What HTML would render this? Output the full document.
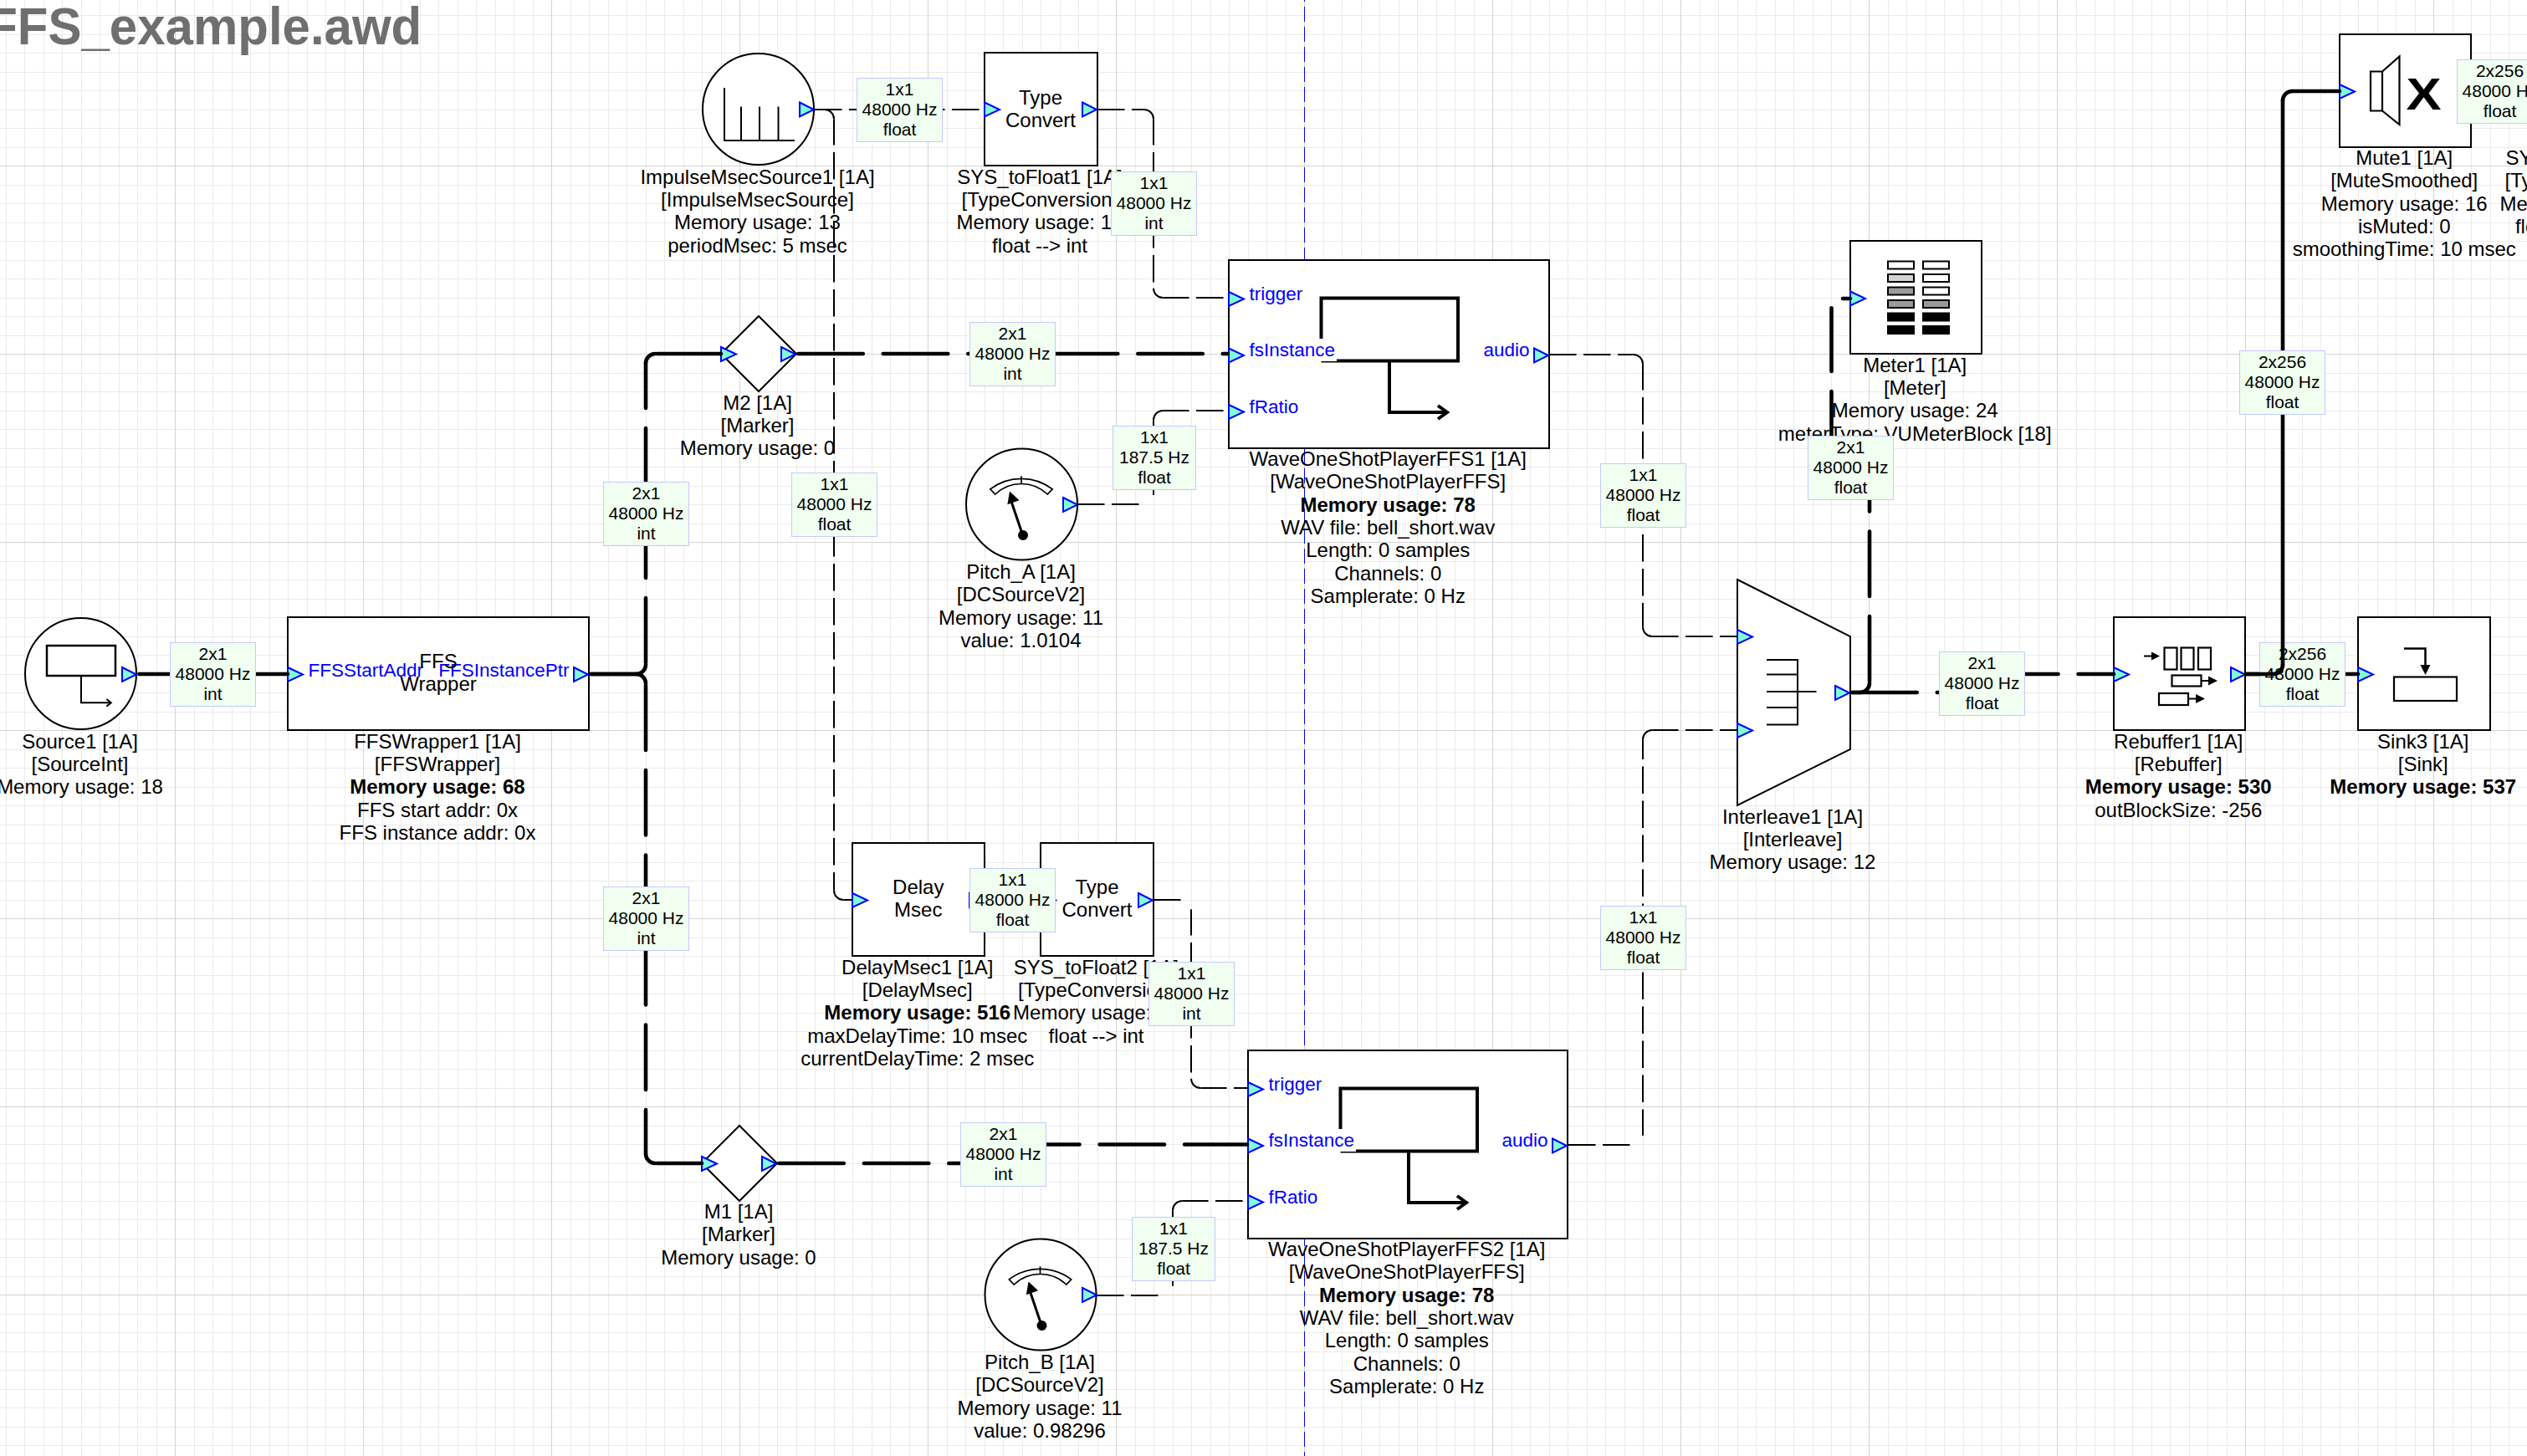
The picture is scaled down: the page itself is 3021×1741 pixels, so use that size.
<!DOCTYPE html>
<html><head><meta charset="utf-8"><title>FFS_example.awd</title><style>html,body{margin:0;padding:0;background:#fff;overflow:hidden}svg{display:block}</style></head><body>
<svg width="3021" height="1741" viewBox="0 0 3021 1741" font-family='"Liberation Sans", sans-serif'>
<rect width="3021" height="1741" fill="#fff"/>
<path d="M7.5 0V1741M29.5 0V1741M52.5 0V1741M74.5 0V1741M97.5 0V1741M119.5 0V1741M142.5 0V1741M164.5 0V1741M187.5 0V1741M232.5 0V1741M254.5 0V1741M277.5 0V1741M299.5 0V1741M322.5 0V1741M344.5 0V1741M367.5 0V1741M389.5 0V1741M412.5 0V1741M457.5 0V1741M479.5 0V1741M502.5 0V1741M524.5 0V1741M547.5 0V1741M569.5 0V1741M592.5 0V1741M614.5 0V1741M637.5 0V1741M682.5 0V1741M704.5 0V1741M727.5 0V1741M749.5 0V1741M772.5 0V1741M794.5 0V1741M817.5 0V1741M839.5 0V1741M862.5 0V1741M907.5 0V1741M929.5 0V1741M952.5 0V1741M974.5 0V1741M997.5 0V1741M1019.5 0V1741M1042.5 0V1741M1064.5 0V1741M1087.5 0V1741M1132.5 0V1741M1154.5 0V1741M1177.5 0V1741M1199.5 0V1741M1222.5 0V1741M1244.5 0V1741M1267.5 0V1741M1289.5 0V1741M1312.5 0V1741M1357.5 0V1741M1379.5 0V1741M1402.5 0V1741M1424.5 0V1741M1447.5 0V1741M1469.5 0V1741M1492.5 0V1741M1514.5 0V1741M1537.5 0V1741M1582.5 0V1741M1604.5 0V1741M1627.5 0V1741M1649.5 0V1741M1672.5 0V1741M1694.5 0V1741M1717.5 0V1741M1739.5 0V1741M1762.5 0V1741M1807.5 0V1741M1829.5 0V1741M1852.5 0V1741M1874.5 0V1741M1897.5 0V1741M1919.5 0V1741M1942.5 0V1741M1964.5 0V1741M1987.5 0V1741M2032.5 0V1741M2054.5 0V1741M2077.5 0V1741M2099.5 0V1741M2122.5 0V1741M2144.5 0V1741M2167.5 0V1741M2189.5 0V1741M2212.5 0V1741M2257.5 0V1741M2279.5 0V1741M2302.5 0V1741M2324.5 0V1741M2347.5 0V1741M2369.5 0V1741M2392.5 0V1741M2414.5 0V1741M2437.5 0V1741M2482.5 0V1741M2504.5 0V1741M2527.5 0V1741M2549.5 0V1741M2572.5 0V1741M2594.5 0V1741M2617.5 0V1741M2639.5 0V1741M2662.5 0V1741M2707.5 0V1741M2729.5 0V1741M2752.5 0V1741M2774.5 0V1741M2797.5 0V1741M2819.5 0V1741M2842.5 0V1741M2864.5 0V1741M2887.5 0V1741M2932.5 0V1741M2954.5 0V1741M2977.5 0V1741M2999.5 0V1741M0 18.5H3021M0 41.5H3021M0 63.5H3021M0 86.5H3021M0 108.5H3021M0 131.5H3021M0 153.5H3021M0 176.5H3021M0 221.5H3021M0 243.5H3021M0 266.5H3021M0 288.5H3021M0 311.5H3021M0 333.5H3021M0 356.5H3021M0 378.5H3021M0 401.5H3021M0 446.5H3021M0 468.5H3021M0 491.5H3021M0 513.5H3021M0 536.5H3021M0 558.5H3021M0 581.5H3021M0 603.5H3021M0 626.5H3021M0 671.5H3021M0 693.5H3021M0 716.5H3021M0 738.5H3021M0 761.5H3021M0 783.5H3021M0 806.5H3021M0 828.5H3021M0 851.5H3021M0 896.5H3021M0 918.5H3021M0 941.5H3021M0 963.5H3021M0 986.5H3021M0 1008.5H3021M0 1031.5H3021M0 1053.5H3021M0 1076.5H3021M0 1121.5H3021M0 1143.5H3021M0 1166.5H3021M0 1188.5H3021M0 1211.5H3021M0 1233.5H3021M0 1256.5H3021M0 1278.5H3021M0 1301.5H3021M0 1346.5H3021M0 1368.5H3021M0 1391.5H3021M0 1413.5H3021M0 1436.5H3021M0 1458.5H3021M0 1481.5H3021M0 1503.5H3021M0 1526.5H3021M0 1571.5H3021M0 1593.5H3021M0 1616.5H3021M0 1638.5H3021M0 1661.5H3021M0 1683.5H3021M0 1706.5H3021M0 1728.5H3021" stroke="#ebebeb" stroke-width="1" shape-rendering="crispEdges"/>
<path d="M209.5 0V1741M434.5 0V1741M659.5 0V1741M884.5 0V1741M1109.5 0V1741M1334.5 0V1741M1559.5 0V1741M1784.5 0V1741M2009.5 0V1741M2234.5 0V1741M2459.5 0V1741M2684.5 0V1741M2909.5 0V1741M0 198.5H3021M0 423.5H3021M0 648.5H3021M0 873.5H3021M0 1098.5H3021M0 1323.5H3021M0 1548.5H3021" stroke="#d4d4d4" stroke-width="1" shape-rendering="crispEdges"/>
<path d="M1559.5 0V1741" stroke="#0000ff" stroke-width="1" stroke-dasharray="18 6" stroke-dashoffset="16" shape-rendering="crispEdges"/>
<g transform="translate(-15.8 52.6) scale(1 1.047)">
<text x="0.00" y="0.00" font-size="60" text-anchor="start" fill="#6f6f6f" font-weight="bold">FFS_example.awd</text>
</g>
<text x="95.50" y="894.50" font-size="24" text-anchor="middle" fill="#000">Source1 [1A]</text>
<text x="95.50" y="921.85" font-size="24" text-anchor="middle" fill="#000">[SourceInt]</text>
<text x="95.50" y="949.20" font-size="24" text-anchor="middle" fill="#000">Memory usage: 18</text>
<text x="523.00" y="894.50" font-size="24" text-anchor="middle" fill="#000">FFSWrapper1 [1A]</text>
<text x="523.00" y="921.85" font-size="24" text-anchor="middle" fill="#000">[FFSWrapper]</text>
<text x="523.00" y="949.20" font-size="24" text-anchor="middle" fill="#000" font-weight="bold">Memory usage: 68</text>
<text x="523.00" y="976.55" font-size="24" text-anchor="middle" fill="#000">FFS start addr: 0x</text>
<text x="523.00" y="1003.90" font-size="24" text-anchor="middle" fill="#000">FFS instance addr: 0x</text>
<text x="905.50" y="219.50" font-size="24" text-anchor="middle" fill="#000">ImpulseMsecSource1 [1A]</text>
<text x="905.50" y="246.85" font-size="24" text-anchor="middle" fill="#000">[ImpulseMsecSource]</text>
<text x="905.50" y="274.20" font-size="24" text-anchor="middle" fill="#000">Memory usage: 13</text>
<text x="905.50" y="301.55" font-size="24" text-anchor="middle" fill="#000">periodMsec: 5 msec</text>
<text x="1243.00" y="219.50" font-size="24" text-anchor="middle" fill="#000">SYS_toFloat1 [1A]</text>
<text x="1243.00" y="246.85" font-size="24" text-anchor="middle" fill="#000">[TypeConversion]</text>
<text x="1243.00" y="274.20" font-size="24" text-anchor="middle" fill="#000">Memory usage: 12</text>
<text x="1243.00" y="301.55" font-size="24" text-anchor="middle" fill="#000">float --&gt; int</text>
<text x="905.50" y="489.50" font-size="24" text-anchor="middle" fill="#000">M2 [1A]</text>
<text x="905.50" y="516.85" font-size="24" text-anchor="middle" fill="#000">[Marker]</text>
<text x="905.50" y="544.20" font-size="24" text-anchor="middle" fill="#000">Memory usage: 0</text>
<text x="1659.25" y="557.00" font-size="24" text-anchor="middle" fill="#000">WaveOneShotPlayerFFS1 [1A]</text>
<text x="1659.25" y="584.35" font-size="24" text-anchor="middle" fill="#000">[WaveOneShotPlayerFFS]</text>
<text x="1659.25" y="611.70" font-size="24" text-anchor="middle" fill="#000" font-weight="bold">Memory usage: 78</text>
<text x="1659.25" y="639.05" font-size="24" text-anchor="middle" fill="#000">WAV file: bell_short.wav</text>
<text x="1659.25" y="666.40" font-size="24" text-anchor="middle" fill="#000">Length: 0 samples</text>
<text x="1659.25" y="693.75" font-size="24" text-anchor="middle" fill="#000">Channels: 0</text>
<text x="1659.25" y="721.10" font-size="24" text-anchor="middle" fill="#000">Samplerate: 0 Hz</text>
<text x="1220.50" y="692.00" font-size="24" text-anchor="middle" fill="#000">Pitch_A [1A]</text>
<text x="1220.50" y="719.35" font-size="24" text-anchor="middle" fill="#000">[DCSourceV2]</text>
<text x="1220.50" y="746.70" font-size="24" text-anchor="middle" fill="#000">Memory usage: 11</text>
<text x="1220.50" y="774.05" font-size="24" text-anchor="middle" fill="#000">value: 1.0104</text>
<text x="2289.25" y="444.50" font-size="24" text-anchor="middle" fill="#000">Meter1 [1A]</text>
<text x="2289.25" y="471.85" font-size="24" text-anchor="middle" fill="#000">[Meter]</text>
<text x="2289.25" y="499.20" font-size="24" text-anchor="middle" fill="#000">Memory usage: 24</text>
<text x="2289.25" y="526.55" font-size="24" text-anchor="middle" fill="#000">meterType: VUMeterBlock [18]</text>
<text x="2874.25" y="197.00" font-size="24" text-anchor="middle" fill="#000">Mute1 [1A]</text>
<text x="2874.25" y="224.35" font-size="24" text-anchor="middle" fill="#000">[MuteSmoothed]</text>
<text x="2874.25" y="251.70" font-size="24" text-anchor="middle" fill="#000">Memory usage: 16</text>
<text x="2874.25" y="279.05" font-size="24" text-anchor="middle" fill="#000">isMuted: 0</text>
<text x="2874.25" y="306.40" font-size="24" text-anchor="middle" fill="#000">smoothingTime: 10 msec</text>
<text x="3088.00" y="197.00" font-size="24" text-anchor="middle" fill="#000"></text>
<text x="3088.00" y="224.35" font-size="24" text-anchor="middle" fill="#000">[TypeConversion]</text>
<text x="3088.00" y="251.70" font-size="24" text-anchor="middle" fill="#000">Memory usage: 12</text>
<text x="3088.00" y="279.05" font-size="24" text-anchor="middle" fill="#000">float --&gt; fract32</text>
<text x="2995.50" y="197.00" font-size="24" text-anchor="start" fill="#000">SYS_toFloat3 [1A]</text>
<text x="2143.00" y="984.50" font-size="24" text-anchor="middle" fill="#000">Interleave1 [1A]</text>
<text x="2143.00" y="1011.85" font-size="24" text-anchor="middle" fill="#000">[Interleave]</text>
<text x="2143.00" y="1039.20" font-size="24" text-anchor="middle" fill="#000">Memory usage: 12</text>
<text x="2604.25" y="894.50" font-size="24" text-anchor="middle" fill="#000">Rebuffer1 [1A]</text>
<text x="2604.25" y="921.85" font-size="24" text-anchor="middle" fill="#000">[Rebuffer]</text>
<text x="2604.25" y="949.20" font-size="24" text-anchor="middle" fill="#000" font-weight="bold">Memory usage: 530</text>
<text x="2604.25" y="976.55" font-size="24" text-anchor="middle" fill="#000">outBlockSize: -256</text>
<text x="2896.75" y="894.50" font-size="24" text-anchor="middle" fill="#000">Sink3 [1A]</text>
<text x="2896.75" y="921.85" font-size="24" text-anchor="middle" fill="#000">[Sink]</text>
<text x="2896.75" y="949.20" font-size="24" text-anchor="middle" fill="#000" font-weight="bold">Memory usage: 537</text>
<text x="1096.75" y="1164.50" font-size="24" text-anchor="middle" fill="#000">DelayMsec1 [1A]</text>
<text x="1096.75" y="1191.85" font-size="24" text-anchor="middle" fill="#000">[DelayMsec]</text>
<text x="1096.75" y="1219.20" font-size="24" text-anchor="middle" fill="#000" font-weight="bold">Memory usage: 516</text>
<text x="1096.75" y="1246.55" font-size="24" text-anchor="middle" fill="#000">maxDelayTime: 10 msec</text>
<text x="1096.75" y="1273.90" font-size="24" text-anchor="middle" fill="#000">currentDelayTime: 2 msec</text>
<text x="1310.50" y="1164.50" font-size="24" text-anchor="middle" fill="#000">SYS_toFloat2 [1A]</text>
<text x="1310.50" y="1191.85" font-size="24" text-anchor="middle" fill="#000">[TypeConversion]</text>
<text x="1310.50" y="1219.20" font-size="24" text-anchor="middle" fill="#000">Memory usage: 12</text>
<text x="1310.50" y="1246.55" font-size="24" text-anchor="middle" fill="#000">float --&gt; int</text>
<text x="1681.75" y="1502.00" font-size="24" text-anchor="middle" fill="#000">WaveOneShotPlayerFFS2 [1A]</text>
<text x="1681.75" y="1529.35" font-size="24" text-anchor="middle" fill="#000">[WaveOneShotPlayerFFS]</text>
<text x="1681.75" y="1556.70" font-size="24" text-anchor="middle" fill="#000" font-weight="bold">Memory usage: 78</text>
<text x="1681.75" y="1584.05" font-size="24" text-anchor="middle" fill="#000">WAV file: bell_short.wav</text>
<text x="1681.75" y="1611.40" font-size="24" text-anchor="middle" fill="#000">Length: 0 samples</text>
<text x="1681.75" y="1638.75" font-size="24" text-anchor="middle" fill="#000">Channels: 0</text>
<text x="1681.75" y="1666.10" font-size="24" text-anchor="middle" fill="#000">Samplerate: 0 Hz</text>
<text x="883.00" y="1457.00" font-size="24" text-anchor="middle" fill="#000">M1 [1A]</text>
<text x="883.00" y="1484.35" font-size="24" text-anchor="middle" fill="#000">[Marker]</text>
<text x="883.00" y="1511.70" font-size="24" text-anchor="middle" fill="#000">Memory usage: 0</text>
<text x="1243.00" y="1637.00" font-size="24" text-anchor="middle" fill="#000">Pitch_B [1A]</text>
<text x="1243.00" y="1664.35" font-size="24" text-anchor="middle" fill="#000">[DCSourceV2]</text>
<text x="1243.00" y="1691.70" font-size="24" text-anchor="middle" fill="#000">Memory usage: 11</text>
<text x="1243.00" y="1719.05" font-size="24" text-anchor="middle" fill="#000">value: 0.98296</text>
<circle cx="96.5" cy="805.5" r="66.5" fill="#fff" stroke="#000" stroke-width="2"/>
<path d="M56 772H138V808H56Z" fill="none" stroke="#000" stroke-width="2.5"/>
<path d="M97 808V840.3H132" fill="none" stroke="#000" stroke-width="2"/>
<path d="M127.3 836L132.8 840.3L127.3 844.6" fill="none" stroke="#000" stroke-width="2"/>
<rect x="344" y="738" width="360" height="135" fill="#fff" stroke="#000" stroke-width="2"/>
<circle cx="906.5" cy="130.5" r="66.5" fill="#fff" stroke="#000" stroke-width="2"/>
<path d="M866 105V168H950M886 127.5V168M908 127.5V168M930.5 127.5V168" fill="none" stroke="#000" stroke-width="2"/>
<rect x="1177" y="63" width="135" height="135" fill="#fff" stroke="#000" stroke-width="2"/>
<text x="1244.00" y="125.00" font-size="24" text-anchor="middle" fill="#000">Type</text>
<text x="1244.00" y="152.00" font-size="24" text-anchor="middle" fill="#000">Convert</text>
<rect x="1469" y="311" width="383" height="225" fill="#fff" stroke="#000" stroke-width="2"/>
<path d="M1579.5 406V356.5H1743V431.5H1579.5M1661 431.5V493H1730M1719 485L1730 493L1719 501" fill="none" stroke="#000" stroke-width="4"/>
<rect x="1491" y="337.5" width="65.5" height="27" fill="#fff"/>
<text x="1493.50" y="358.50" font-size="22.5" text-anchor="start" fill="#0000ff">trigger</text>
<rect x="1491" y="405.0" width="107" height="27" fill="#fff"/>
<text x="1493.50" y="426.00" font-size="22.5" text-anchor="start" fill="#0000ff">fsInstance</text>
<rect x="1491" y="472.5" width="63" height="27" fill="#fff"/>
<text x="1493.50" y="493.50" font-size="22.5" text-anchor="start" fill="#0000ff">fRatio</text>
<text x="1828.50" y="426.00" font-size="22.5" text-anchor="end" fill="#0000ff">audio</text>
<path d="M907 378L952 423L907 468L862 423Z" fill="#fff" stroke="#000" stroke-width="2"/>
<circle cx="1221.5" cy="603.0" r="66.5" fill="#fff" stroke="#000" stroke-width="2"/>
<path d="M1183.80 584.90A61.2 61.2 0 0 1 1258.20 584.90L1252.20 591.00A45.2 45.2 0 0 0 1189.80 591.00Z" fill="none" stroke="#000" stroke-width="1.7"/>
<path d="M1221.0 569.30V578.50" stroke="#000" stroke-width="1.7"/>
<path d="M1222.70 640.00L1209.50 601.00" stroke="#000" stroke-width="3"/>
<path d="M1207.00 587.50L1218.59 598.36L1204.38 603.17Z" fill="#000"/>
<circle cx="1223.00" cy="640.00" r="6" fill="#000"/>
<rect x="2212" y="288" width="157" height="135" fill="#fff" stroke="#000" stroke-width="2"/>
<rect x="2257" y="312.50" width="31" height="9" fill="#fff" stroke="#000" stroke-width="2"/>
<rect x="2299" y="312.50" width="31" height="9" fill="#fff" stroke="#000" stroke-width="2"/>
<rect x="2257" y="328.00" width="31" height="9" fill="#d3d3d3" stroke="#000" stroke-width="2"/>
<rect x="2299" y="328.00" width="31" height="9" fill="#fff" stroke="#000" stroke-width="2"/>
<rect x="2257" y="343.50" width="31" height="9" fill="#9a9a9a" stroke="#000" stroke-width="2"/>
<rect x="2299" y="343.50" width="31" height="9" fill="#fff" stroke="#000" stroke-width="2"/>
<rect x="2257" y="359.00" width="31" height="9" fill="#9a9a9a" stroke="#000" stroke-width="2"/>
<rect x="2299" y="359.00" width="31" height="9" fill="#9a9a9a" stroke="#000" stroke-width="2"/>
<rect x="2257" y="374.50" width="31" height="9" fill="#000" stroke="#000" stroke-width="2"/>
<rect x="2299" y="374.50" width="31" height="9" fill="#000" stroke="#000" stroke-width="2"/>
<rect x="2257" y="390.00" width="31" height="9" fill="#000" stroke="#000" stroke-width="2"/>
<rect x="2299" y="390.00" width="31" height="9" fill="#000" stroke="#000" stroke-width="2"/>
<rect x="2797" y="41" width="157" height="135" fill="#fff" stroke="#000" stroke-width="2"/>
<path d="M2834 85.5H2848V132.5H2834Z M2848 85.5L2868.5 67.5V149L2848 132.5" fill="none" stroke="#000" stroke-width="2.2" stroke-linejoin="miter"/>
<g transform="translate(2897.5 131) scale(1.19 1)">
<text x="0.00" y="0.00" font-size="53" text-anchor="middle" fill="#000" font-weight="bold">X</text>
</g>
<path d="M2077 693L2212 761V896L2077 963Z" fill="#fff" stroke="#000" stroke-width="2"/>
<path d="M2112 789H2149V866.5H2112M2112 806.5H2149M2112 846H2149M2112 827H2171.5" fill="none" stroke="#000" stroke-width="2"/>
<rect x="2527" y="738" width="157" height="135" fill="#fff" stroke="#000" stroke-width="2"/>
<path d="M2563 784.5H2573" stroke="#000" stroke-width="2"/><path d="M2572 779.5L2582 784.5L2572 789.5Z" fill="#000"/><rect x="2587.5" y="774.5" width="15" height="26" fill="none" stroke="#000" stroke-width="2.2"/><rect x="2607.5" y="774.5" width="15" height="26" fill="none" stroke="#000" stroke-width="2.2"/><rect x="2628" y="774.5" width="15" height="26" fill="none" stroke="#000" stroke-width="2.2"/><rect x="2596.5" y="807.5" width="35" height="13" fill="none" stroke="#000" stroke-width="2.2"/><path d="M2632 814H2641" stroke="#000" stroke-width="2"/><path d="M2640 808.5L2651 814L2640 819.5Z" fill="#000"/><rect x="2581" y="829" width="35" height="14" fill="none" stroke="#000" stroke-width="2.2"/><path d="M2616 835.5H2626" stroke="#000" stroke-width="2"/><path d="M2625 830L2636 835.5L2625 841Z" fill="#000"/>
<rect x="2819" y="738" width="158" height="135" fill="#fff" stroke="#000" stroke-width="2"/>
<rect x="2862" y="809.5" width="75" height="28.5" fill="none" stroke="#000" stroke-width="2.2"/>
<path d="M2874 775.5H2899.5V795" fill="none" stroke="#000" stroke-width="2.5"/>
<path d="M2893.5 795L2899.5 807L2905.5 795Z" fill="#000"/>
<rect x="1019" y="1008" width="158" height="135" fill="#fff" stroke="#000" stroke-width="2"/>
<text x="1097.75" y="1069.00" font-size="24" text-anchor="middle" fill="#000">Delay</text>
<text x="1097.75" y="1096.00" font-size="24" text-anchor="middle" fill="#000">Msec</text>
<rect x="1244" y="1008" width="135" height="135" fill="#fff" stroke="#000" stroke-width="2"/>
<text x="1311.50" y="1069.00" font-size="24" text-anchor="middle" fill="#000">Type</text>
<text x="1311.50" y="1096.00" font-size="24" text-anchor="middle" fill="#000">Convert</text>
<rect x="1492" y="1256" width="382" height="225" fill="#fff" stroke="#000" stroke-width="2"/>
<path d="M1602.5 1351V1301.5H1766V1376.5H1602.5M1684 1376.5V1438H1753M1742 1430L1753 1438L1742 1446" fill="none" stroke="#000" stroke-width="4"/>
<rect x="1514" y="1282.5" width="65.5" height="27" fill="#fff"/>
<text x="1516.50" y="1303.50" font-size="22.5" text-anchor="start" fill="#0000ff">trigger</text>
<rect x="1514" y="1350.0" width="107" height="27" fill="#fff"/>
<text x="1516.50" y="1371.00" font-size="22.5" text-anchor="start" fill="#0000ff">fsInstance</text>
<rect x="1514" y="1417.5" width="63" height="27" fill="#fff"/>
<text x="1516.50" y="1438.50" font-size="22.5" text-anchor="start" fill="#0000ff">fRatio</text>
<text x="1850.50" y="1371.00" font-size="22.5" text-anchor="end" fill="#0000ff">audio</text>
<path d="M884 1346L929 1391L884 1436L839 1391Z" fill="#fff" stroke="#000" stroke-width="2"/>
<circle cx="1244.0" cy="1548.0" r="66.5" fill="#fff" stroke="#000" stroke-width="2"/>
<path d="M1206.30 1529.90A61.2 61.2 0 0 1 1280.70 1529.90L1274.70 1536.00A45.2 45.2 0 0 0 1212.30 1536.00Z" fill="none" stroke="#000" stroke-width="1.7"/>
<path d="M1243.5 1514.30V1523.50" stroke="#000" stroke-width="1.7"/>
<path d="M1245.20 1585.00L1232.00 1546.00" stroke="#000" stroke-width="3"/>
<path d="M1229.50 1532.50L1241.09 1543.36L1226.88 1548.17Z" fill="#000"/>
<circle cx="1245.50" cy="1585.00" r="6" fill="#000"/>
<text x="368.50" y="808.50" font-size="22.5" text-anchor="start" fill="#0000ff">FFSStartAddr</text>
<text x="680.50" y="808.50" font-size="22.5" text-anchor="end" fill="#0000ff">FFSInstancePtr</text>
<text x="524.00" y="799.00" font-size="24" text-anchor="middle" fill="#000">FFS</text>
<text x="524.00" y="826.00" font-size="24" text-anchor="middle" fill="#000">Wrapper</text>
<path d="M146 798.0L163 806.5L146 815.0Z" fill="#7fffd4" stroke="#0000ff" stroke-width="2" stroke-linejoin="miter"/>
<path d="M344 798.0L362 806.5L344 815.0Z" fill="#7fffd4" stroke="#0000ff" stroke-width="2" stroke-linejoin="miter"/>
<path d="M686 798.0L703 806.5L686 815.0Z" fill="#7fffd4" stroke="#0000ff" stroke-width="2" stroke-linejoin="miter"/>
<path d="M956 122.5L973 131L956 139.5Z" fill="#7fffd4" stroke="#0000ff" stroke-width="2" stroke-linejoin="miter"/>
<path d="M1177 122.5L1195 131L1177 139.5Z" fill="#7fffd4" stroke="#0000ff" stroke-width="2" stroke-linejoin="miter"/>
<path d="M1294 122.5L1311 131L1294 139.5Z" fill="#7fffd4" stroke="#0000ff" stroke-width="2" stroke-linejoin="miter"/>
<path d="M862 415.0L880 423.5L862 432.0Z" fill="#7fffd4" stroke="#0000ff" stroke-width="2" stroke-linejoin="miter"/>
<path d="M934 415.0L951 423.5L934 432.0Z" fill="#7fffd4" stroke="#0000ff" stroke-width="2" stroke-linejoin="miter"/>
<path d="M1469 349.0L1487 357.5L1469 366.0Z" fill="#7fffd4" stroke="#0000ff" stroke-width="2" stroke-linejoin="miter"/>
<path d="M1469 416.5L1487 425L1469 433.5Z" fill="#7fffd4" stroke="#0000ff" stroke-width="2" stroke-linejoin="miter"/>
<path d="M1469 484.0L1487 492.5L1469 501.0Z" fill="#7fffd4" stroke="#0000ff" stroke-width="2" stroke-linejoin="miter"/>
<path d="M1834 416.5L1851 425L1834 433.5Z" fill="#7fffd4" stroke="#0000ff" stroke-width="2" stroke-linejoin="miter"/>
<path d="M1492 1294.0L1510 1302.5L1492 1311.0Z" fill="#7fffd4" stroke="#0000ff" stroke-width="2" stroke-linejoin="miter"/>
<path d="M1492 1361.5L1510 1370L1492 1378.5Z" fill="#7fffd4" stroke="#0000ff" stroke-width="2" stroke-linejoin="miter"/>
<path d="M1492 1429.0L1510 1437.5L1492 1446.0Z" fill="#7fffd4" stroke="#0000ff" stroke-width="2" stroke-linejoin="miter"/>
<path d="M1856 1361.5L1873 1370L1856 1378.5Z" fill="#7fffd4" stroke="#0000ff" stroke-width="2" stroke-linejoin="miter"/>
<path d="M1271 595.0L1288 603.5L1271 612.0Z" fill="#7fffd4" stroke="#0000ff" stroke-width="2" stroke-linejoin="miter"/>
<path d="M1294 1540.0L1311 1548.5L1294 1557.0Z" fill="#7fffd4" stroke="#0000ff" stroke-width="2" stroke-linejoin="miter"/>
<path d="M2212 348.5L2230 357L2212 365.5Z" fill="#7fffd4" stroke="#0000ff" stroke-width="2" stroke-linejoin="miter"/>
<path d="M2077 753.0L2095 761.5L2077 770.0Z" fill="#7fffd4" stroke="#0000ff" stroke-width="2" stroke-linejoin="miter"/>
<path d="M2077 865.0L2095 873.5L2077 882.0Z" fill="#7fffd4" stroke="#0000ff" stroke-width="2" stroke-linejoin="miter"/>
<path d="M2194 820.0L2211 828.5L2194 837.0Z" fill="#7fffd4" stroke="#0000ff" stroke-width="2" stroke-linejoin="miter"/>
<path d="M2527 798.0L2545 806.5L2527 815.0Z" fill="#7fffd4" stroke="#0000ff" stroke-width="2" stroke-linejoin="miter"/>
<path d="M2667 798.0L2684 806.5L2667 815.0Z" fill="#7fffd4" stroke="#0000ff" stroke-width="2" stroke-linejoin="miter"/>
<path d="M2819 798.0L2837 806.5L2819 815.0Z" fill="#7fffd4" stroke="#0000ff" stroke-width="2" stroke-linejoin="miter"/>
<path d="M2797 101.0L2815 109.5L2797 118.0Z" fill="#7fffd4" stroke="#0000ff" stroke-width="2" stroke-linejoin="miter"/>
<path d="M1019 1068.0L1037 1076.5L1019 1085.0Z" fill="#7fffd4" stroke="#0000ff" stroke-width="2" stroke-linejoin="miter"/>
<path d="M1159 1068.0L1176 1076.5L1159 1085.0Z" fill="#7fffd4" stroke="#0000ff" stroke-width="2" stroke-linejoin="miter"/>
<path d="M1244 1068.0L1262 1076.5L1244 1085.0Z" fill="#7fffd4" stroke="#0000ff" stroke-width="2" stroke-linejoin="miter"/>
<path d="M1361 1068.0L1378 1076.5L1361 1085.0Z" fill="#7fffd4" stroke="#0000ff" stroke-width="2" stroke-linejoin="miter"/>
<path d="M839 1383.0L857 1391.5L839 1400.0Z" fill="#7fffd4" stroke="#0000ff" stroke-width="2" stroke-linejoin="miter"/>
<path d="M911 1383.0L928 1391.5L911 1400.0Z" fill="#7fffd4" stroke="#0000ff" stroke-width="2" stroke-linejoin="miter"/>
<path d="M164.00 806.00L344.00 806.00" stroke="#000" stroke-width="4.6" fill="none" stroke-dasharray="77.5 24" stroke-dashoffset="-2.3" stroke-linecap="round"/>
<rect x="203.5" y="768.5" width="102" height="76" fill="#f0fff0" stroke="#c8c8ff" stroke-width="1"/>
<text x="254.50" y="788.70" font-size="21" text-anchor="middle" fill="#000">2x1</text>
<text x="254.50" y="812.70" font-size="21" text-anchor="middle" fill="#000">48000 Hz</text>
<text x="254.50" y="836.70" font-size="21" text-anchor="middle" fill="#000">int</text>
<path d="M704.00 806.00L760.75 806.00" stroke="#000" stroke-width="4.6" fill="none" stroke-dasharray="77.5 24" stroke-dashoffset="-2.3" stroke-linecap="round"/>
<path d="M772.00 794.75L772.00 434.25" stroke="#000" stroke-width="4.6" fill="none" stroke-dasharray="77.5 24" stroke-dashoffset="-2.3" stroke-linecap="round"/>
<path d="M783.25 423.00L862.00 423.00" stroke="#000" stroke-width="4.6" fill="none" stroke-dasharray="77.5 24" stroke-dashoffset="-2.3" stroke-linecap="round"/>
<path d="M760.75 806.00A11.25 11.25 0 0 0 772.00 794.75M772.00 434.25A11.25 11.25 0 0 1 783.25 423.00" stroke="#000" stroke-width="4.6" fill="none" stroke-linecap="round"/>
<rect x="721.5" y="576.5" width="102" height="76" fill="#f0fff0" stroke="#c8c8ff" stroke-width="1"/>
<text x="772.50" y="596.70" font-size="21" text-anchor="middle" fill="#000">2x1</text>
<text x="772.50" y="620.70" font-size="21" text-anchor="middle" fill="#000">48000 Hz</text>
<text x="772.50" y="644.70" font-size="21" text-anchor="middle" fill="#000">int</text>
<path d="M704.00 806.00L760.75 806.00" stroke="#000" stroke-width="4.6" fill="none" stroke-dasharray="77.5 24" stroke-dashoffset="-2.3" stroke-linecap="round"/>
<path d="M772.00 817.25L772.00 1379.75" stroke="#000" stroke-width="4.6" fill="none" stroke-dasharray="77.5 24" stroke-dashoffset="-2.3" stroke-linecap="round"/>
<path d="M783.25 1391.00L839.00 1391.00" stroke="#000" stroke-width="4.6" fill="none" stroke-dasharray="77.5 24" stroke-dashoffset="-2.3" stroke-linecap="round"/>
<path d="M760.75 806.00A11.25 11.25 0 0 1 772.00 817.25M772.00 1379.75A11.25 11.25 0 0 0 783.25 1391.00" stroke="#000" stroke-width="4.6" fill="none" stroke-linecap="round"/>
<rect x="721.5" y="1060.5" width="102" height="76" fill="#f0fff0" stroke="#c8c8ff" stroke-width="1"/>
<text x="772.50" y="1080.70" font-size="21" text-anchor="middle" fill="#000">2x1</text>
<text x="772.50" y="1104.70" font-size="21" text-anchor="middle" fill="#000">48000 Hz</text>
<text x="772.50" y="1128.70" font-size="21" text-anchor="middle" fill="#000">int</text>
<path d="M952.00 423.00L1468.00 423.00" stroke="#000" stroke-width="4.6" fill="none" stroke-dasharray="77.5 24" stroke-dashoffset="-2.3" stroke-linecap="round"/>
<rect x="1159.5" y="385.5" width="102" height="76" fill="#f0fff0" stroke="#c8c8ff" stroke-width="1"/>
<text x="1210.50" y="405.70" font-size="21" text-anchor="middle" fill="#000">2x1</text>
<text x="1210.50" y="429.70" font-size="21" text-anchor="middle" fill="#000">48000 Hz</text>
<text x="1210.50" y="453.70" font-size="21" text-anchor="middle" fill="#000">int</text>
<path d="M929.00 1391.00L1188.25 1391.00" stroke="#000" stroke-width="4.6" fill="none" stroke-dasharray="77.5 24" stroke-dashoffset="-2.3" stroke-linecap="round"/>
<path d="M1199.50 1379.75L1199.50 1379.75" stroke="#000" stroke-width="4.6" fill="none" stroke-dasharray="77.5 24" stroke-dashoffset="-2.3" stroke-linecap="round"/>
<path d="M1210.75 1368.50L1491.00 1368.50" stroke="#000" stroke-width="4.6" fill="none" stroke-dasharray="77.5 24" stroke-dashoffset="-2.3" stroke-linecap="round"/>
<path d="M1188.25 1391.00A11.25 11.25 0 0 0 1199.50 1379.75M1199.50 1379.75A11.25 11.25 0 0 1 1210.75 1368.50" stroke="#000" stroke-width="4.6" fill="none" stroke-linecap="round"/>
<rect x="1148.5" y="1342.5" width="102" height="76" fill="#f0fff0" stroke="#c8c8ff" stroke-width="1"/>
<text x="1199.50" y="1362.70" font-size="21" text-anchor="middle" fill="#000">2x1</text>
<text x="1199.50" y="1386.70" font-size="21" text-anchor="middle" fill="#000">48000 Hz</text>
<text x="1199.50" y="1410.70" font-size="21" text-anchor="middle" fill="#000">int</text>
<path d="M974.00 131.00L1177.00 131.00" stroke="#000" stroke-width="2" fill="none" stroke-dasharray="32.5 8.5" stroke-linecap="butt"/>
<rect x="1024.5" y="93.5" width="102" height="76" fill="#f0fff0" stroke="#c8c8ff" stroke-width="1"/>
<text x="1075.50" y="113.70" font-size="21" text-anchor="middle" fill="#000">1x1</text>
<text x="1075.50" y="137.70" font-size="21" text-anchor="middle" fill="#000">48000 Hz</text>
<text x="1075.50" y="161.70" font-size="21" text-anchor="middle" fill="#000">float</text>
<path d="M974.00 131.00L985.75 131.00" stroke="#000" stroke-width="2" fill="none" stroke-dasharray="32.5 8.5" stroke-linecap="butt"/>
<path d="M997.00 142.25L997.00 1064.75" stroke="#000" stroke-width="2" fill="none" stroke-dasharray="32.5 8.5" stroke-linecap="butt" stroke-dashoffset="1.2"/>
<path d="M1008.25 1076.00L1019.00 1076.00" stroke="#000" stroke-width="2" fill="none" stroke-dasharray="32.5 8.5" stroke-linecap="butt" stroke-dashoffset="1.2"/>
<path d="M985.75 131.00A11.25 11.25 0 0 1 997.00 142.25M997.00 1064.75A11.25 11.25 0 0 0 1008.25 1076.00" stroke="#000" stroke-width="2" fill="none" stroke-linecap="butt"/>
<rect x="946.5" y="565.5" width="102" height="76" fill="#f0fff0" stroke="#c8c8ff" stroke-width="1"/>
<text x="997.50" y="585.70" font-size="21" text-anchor="middle" fill="#000">1x1</text>
<text x="997.50" y="609.70" font-size="21" text-anchor="middle" fill="#000">48000 Hz</text>
<text x="997.50" y="633.70" font-size="21" text-anchor="middle" fill="#000">float</text>
<path d="M1312.00 131.00L1367.75 131.00" stroke="#000" stroke-width="2" fill="none" stroke-dasharray="32.5 8.5" stroke-linecap="butt"/>
<path d="M1379.00 142.25L1379.00 344.75" stroke="#000" stroke-width="2" fill="none" stroke-dasharray="32.5 8.5" stroke-linecap="butt" stroke-dashoffset="1.2"/>
<path d="M1390.25 356.00L1468.00 356.00" stroke="#000" stroke-width="2" fill="none" stroke-dasharray="32.5 8.5" stroke-linecap="butt" stroke-dashoffset="1.2"/>
<path d="M1367.75 131.00A11.25 11.25 0 0 1 1379.00 142.25M1379.00 344.75A11.25 11.25 0 0 0 1390.25 356.00" stroke="#000" stroke-width="2" fill="none" stroke-linecap="butt"/>
<rect x="1328.5" y="205.5" width="102" height="76" fill="#f0fff0" stroke="#c8c8ff" stroke-width="1"/>
<text x="1379.50" y="225.70" font-size="21" text-anchor="middle" fill="#000">1x1</text>
<text x="1379.50" y="249.70" font-size="21" text-anchor="middle" fill="#000">48000 Hz</text>
<text x="1379.50" y="273.70" font-size="21" text-anchor="middle" fill="#000">int</text>
<path d="M1288.00 603.00L1367.75 603.00" stroke="#000" stroke-width="2" fill="none" stroke-dasharray="32.5 8.5" stroke-linecap="butt"/>
<path d="M1379.00 591.75L1379.00 502.25" stroke="#000" stroke-width="2" fill="none" stroke-dasharray="32.5 8.5" stroke-linecap="butt" stroke-dashoffset="1.2"/>
<path d="M1390.25 491.00L1468.00 491.00" stroke="#000" stroke-width="2" fill="none" stroke-dasharray="32.5 8.5" stroke-linecap="butt" stroke-dashoffset="1.2"/>
<path d="M1379.00 502.25A11.25 11.25 0 0 1 1390.25 491.00" stroke="#000" stroke-width="2" fill="none" stroke-linecap="butt"/>
<rect x="1330.5" y="509.5" width="99" height="76" fill="#f0fff0" stroke="#c8c8ff" stroke-width="1"/>
<text x="1380.00" y="529.70" font-size="21" text-anchor="middle" fill="#000">1x1</text>
<text x="1380.00" y="553.70" font-size="21" text-anchor="middle" fill="#000">187.5 Hz</text>
<text x="1380.00" y="577.70" font-size="21" text-anchor="middle" fill="#000">float</text>
<path d="M1177.00 1076.00L1244.00 1076.00" stroke="#000" stroke-width="2" fill="none" stroke-dasharray="32.5 8.5" stroke-linecap="butt"/>
<rect x="1159.5" y="1038.5" width="102" height="76" fill="#f0fff0" stroke="#c8c8ff" stroke-width="1"/>
<text x="1210.50" y="1058.70" font-size="21" text-anchor="middle" fill="#000">1x1</text>
<text x="1210.50" y="1082.70" font-size="21" text-anchor="middle" fill="#000">48000 Hz</text>
<text x="1210.50" y="1106.70" font-size="21" text-anchor="middle" fill="#000">float</text>
<path d="M1379.00 1076.00L1412.75 1076.00" stroke="#000" stroke-width="2" fill="none" stroke-dasharray="32.5 8.5" stroke-linecap="butt"/>
<path d="M1424.00 1087.25L1424.00 1289.75" stroke="#000" stroke-width="2" fill="none" stroke-dasharray="32.5 8.5" stroke-linecap="butt" stroke-dashoffset="1.2"/>
<path d="M1435.25 1301.00L1491.00 1301.00" stroke="#000" stroke-width="2" fill="none" stroke-dasharray="32.5 8.5" stroke-linecap="butt" stroke-dashoffset="1.2"/>
<path d="M1424.00 1289.75A11.25 11.25 0 0 0 1435.25 1301.00" stroke="#000" stroke-width="2" fill="none" stroke-linecap="butt"/>
<rect x="1373.5" y="1150.5" width="102" height="76" fill="#f0fff0" stroke="#c8c8ff" stroke-width="1"/>
<text x="1424.50" y="1170.70" font-size="21" text-anchor="middle" fill="#000">1x1</text>
<text x="1424.50" y="1194.70" font-size="21" text-anchor="middle" fill="#000">48000 Hz</text>
<text x="1424.50" y="1218.70" font-size="21" text-anchor="middle" fill="#000">int</text>
<path d="M1311.00 1549.00L1390.75 1549.00" stroke="#000" stroke-width="2" fill="none" stroke-dasharray="32.5 8.5" stroke-linecap="butt"/>
<path d="M1402.00 1537.75L1402.00 1447.25" stroke="#000" stroke-width="2" fill="none" stroke-dasharray="32.5 8.5" stroke-linecap="butt" stroke-dashoffset="1.2"/>
<path d="M1413.25 1436.00L1491.00 1436.00" stroke="#000" stroke-width="2" fill="none" stroke-dasharray="32.5 8.5" stroke-linecap="butt" stroke-dashoffset="1.2"/>
<path d="M1402.00 1447.25A11.25 11.25 0 0 1 1413.25 1436.00" stroke="#000" stroke-width="2" fill="none" stroke-linecap="butt"/>
<rect x="1353.5" y="1455.5" width="99" height="76" fill="#f0fff0" stroke="#c8c8ff" stroke-width="1"/>
<text x="1403.00" y="1475.70" font-size="21" text-anchor="middle" fill="#000">1x1</text>
<text x="1403.00" y="1499.70" font-size="21" text-anchor="middle" fill="#000">187.5 Hz</text>
<text x="1403.00" y="1523.70" font-size="21" text-anchor="middle" fill="#000">float</text>
<path d="M1852.00 424.00L1952.75 424.00" stroke="#000" stroke-width="2" fill="none" stroke-dasharray="32.5 8.5" stroke-linecap="butt"/>
<path d="M1964.00 435.25L1964.00 749.75" stroke="#000" stroke-width="2" fill="none" stroke-dasharray="32.5 8.5" stroke-linecap="butt" stroke-dashoffset="1.2"/>
<path d="M1975.25 761.00L2077.00 761.00" stroke="#000" stroke-width="2" fill="none" stroke-dasharray="32.5 8.5" stroke-linecap="butt" stroke-dashoffset="1.2"/>
<path d="M1952.75 424.00A11.25 11.25 0 0 1 1964.00 435.25M1964.00 749.75A11.25 11.25 0 0 0 1975.25 761.00" stroke="#000" stroke-width="2" fill="none" stroke-linecap="butt"/>
<rect x="1913.5" y="554.5" width="102" height="76" fill="#f0fff0" stroke="#c8c8ff" stroke-width="1"/>
<text x="1964.50" y="574.70" font-size="21" text-anchor="middle" fill="#000">1x1</text>
<text x="1964.50" y="598.70" font-size="21" text-anchor="middle" fill="#000">48000 Hz</text>
<text x="1964.50" y="622.70" font-size="21" text-anchor="middle" fill="#000">float</text>
<path d="M1875.00 1369.00L1952.75 1369.00" stroke="#000" stroke-width="2" fill="none" stroke-dasharray="32.5 8.5" stroke-linecap="butt"/>
<path d="M1964.00 1357.75L1964.00 884.25" stroke="#000" stroke-width="2" fill="none" stroke-dasharray="32.5 8.5" stroke-linecap="butt" stroke-dashoffset="1.2"/>
<path d="M1975.25 873.00L2077.00 873.00" stroke="#000" stroke-width="2" fill="none" stroke-dasharray="32.5 8.5" stroke-linecap="butt" stroke-dashoffset="1.2"/>
<path d="M1964.00 884.25A11.25 11.25 0 0 1 1975.25 873.00" stroke="#000" stroke-width="2" fill="none" stroke-linecap="butt"/>
<rect x="1913.5" y="1083.5" width="102" height="76" fill="#f0fff0" stroke="#c8c8ff" stroke-width="1"/>
<text x="1964.50" y="1103.70" font-size="21" text-anchor="middle" fill="#000">1x1</text>
<text x="1964.50" y="1127.70" font-size="21" text-anchor="middle" fill="#000">48000 Hz</text>
<text x="1964.50" y="1151.70" font-size="21" text-anchor="middle" fill="#000">float</text>
<path d="M2212.00 828.00L2223.75 828.00" stroke="#000" stroke-width="4.6" fill="none" stroke-dasharray="77.5 24" stroke-dashoffset="-2.3" stroke-linecap="round"/>
<path d="M2235.00 816.75L2235.00 570.25" stroke="#000" stroke-width="4.6" fill="none" stroke-dasharray="77.5 24" stroke-dashoffset="-2.3" stroke-linecap="round"/>
<path d="M2223.75 559.00L2200.75 559.00" stroke="#000" stroke-width="4.6" fill="none" stroke-dasharray="77.5 24" stroke-dashoffset="-2.3" stroke-linecap="round"/>
<path d="M2189.50 547.75L2189.50 368.25" stroke="#000" stroke-width="4.6" fill="none" stroke-dasharray="77.5 24" stroke-dashoffset="-2.3" stroke-linecap="round"/>
<path d="M2200.75 357.00L2212.00 357.00" stroke="#000" stroke-width="4.6" fill="none" stroke-dasharray="77.5 24" stroke-dashoffset="-2.3" stroke-linecap="round"/>
<path d="M2223.75 828.00A11.25 11.25 0 0 0 2235.00 816.75M2235.00 570.25A11.25 11.25 0 0 0 2223.75 559.00M2200.75 559.00A11.25 11.25 0 0 1 2189.50 547.75" stroke="#000" stroke-width="4.6" fill="none" stroke-linecap="round"/>
<rect x="2161.5" y="521.5" width="102" height="76" fill="#f0fff0" stroke="#c8c8ff" stroke-width="1"/>
<text x="2212.50" y="541.70" font-size="21" text-anchor="middle" fill="#000">2x1</text>
<text x="2212.50" y="565.70" font-size="21" text-anchor="middle" fill="#000">48000 Hz</text>
<text x="2212.50" y="589.70" font-size="21" text-anchor="middle" fill="#000">float</text>
<path d="M2212.00 828.00L2358.25 828.00" stroke="#000" stroke-width="4.6" fill="none" stroke-dasharray="77.5 24" stroke-dashoffset="-2.3" stroke-linecap="round"/>
<path d="M2369.50 816.75L2369.50 817.25" stroke="#000" stroke-width="4.6" fill="none" stroke-dasharray="77.5 24" stroke-dashoffset="-2.3" stroke-linecap="round"/>
<path d="M2380.75 806.00L2527.00 806.00" stroke="#000" stroke-width="4.6" fill="none" stroke-dasharray="77.5 24" stroke-dashoffset="-2.3" stroke-linecap="round"/>
<path d="M2358.25 828.00A11.25 11.25 0 0 0 2369.50 816.75M2369.50 817.25A11.25 11.25 0 0 1 2380.75 806.00" stroke="#000" stroke-width="4.6" fill="none" stroke-linecap="round"/>
<rect x="2318.5" y="779.5" width="102" height="76" fill="#f0fff0" stroke="#c8c8ff" stroke-width="1"/>
<text x="2369.50" y="799.70" font-size="21" text-anchor="middle" fill="#000">2x1</text>
<text x="2369.50" y="823.70" font-size="21" text-anchor="middle" fill="#000">48000 Hz</text>
<text x="2369.50" y="847.70" font-size="21" text-anchor="middle" fill="#000">float</text>
<path d="M2685.00 806.00L2819.00 806.00" stroke="#000" stroke-width="4.6" fill="none" stroke-linecap="round"/>
<rect x="2701.5" y="768.5" width="102" height="76" fill="#f0fff0" stroke="#c8c8ff" stroke-width="1"/>
<text x="2752.50" y="788.70" font-size="21" text-anchor="middle" fill="#000">2x256</text>
<text x="2752.50" y="812.70" font-size="21" text-anchor="middle" fill="#000">48000 Hz</text>
<text x="2752.50" y="836.70" font-size="21" text-anchor="middle" fill="#000">float</text>
<path d="M2685.00 806.00L2717.75 806.00" stroke="#000" stroke-width="4.6" fill="none" stroke-linecap="round"/>
<path d="M2729.00 794.75L2729.00 120.25" stroke="#000" stroke-width="4.6" fill="none" stroke-linecap="round"/>
<path d="M2740.25 109.00L2797.00 109.00" stroke="#000" stroke-width="4.6" fill="none" stroke-linecap="round"/>
<path d="M2717.75 806.00A11.25 11.25 0 0 0 2729.00 794.75M2729.00 120.25A11.25 11.25 0 0 1 2740.25 109.00" stroke="#000" stroke-width="4.6" fill="none" stroke-linecap="round"/>
<rect x="2677.5" y="419.5" width="102" height="76" fill="#f0fff0" stroke="#c8c8ff" stroke-width="1"/>
<text x="2728.50" y="439.70" font-size="21" text-anchor="middle" fill="#000">2x256</text>
<text x="2728.50" y="463.70" font-size="21" text-anchor="middle" fill="#000">48000 Hz</text>
<text x="2728.50" y="487.70" font-size="21" text-anchor="middle" fill="#000">float</text>
<path d="M2954.00 109.00L3022.00 109.00" stroke="#000" stroke-width="4.6" fill="none" stroke-linecap="round"/>
<rect x="2937.5" y="71.5" width="102" height="76" fill="#f0fff0" stroke="#c8c8ff" stroke-width="1"/>
<text x="2988.50" y="91.70" font-size="21" text-anchor="middle" fill="#000">2x256</text>
<text x="2988.50" y="115.70" font-size="21" text-anchor="middle" fill="#000">48000 Hz</text>
<text x="2988.50" y="139.70" font-size="21" text-anchor="middle" fill="#000">float</text>
</svg>
</body></html>
